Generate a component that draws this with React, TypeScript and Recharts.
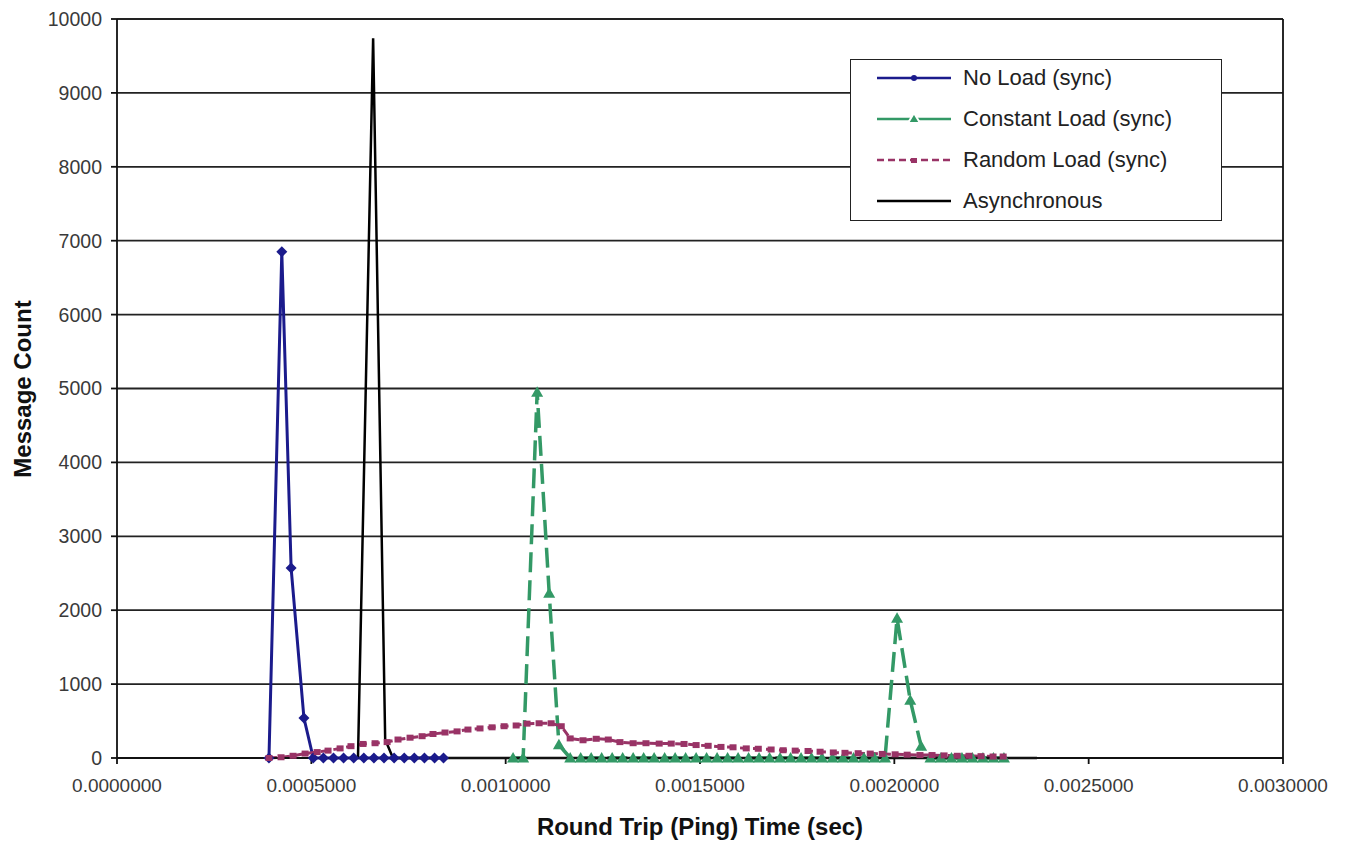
import React from 'react'
import {
  LineChart,
  Line,
  XAxis,
  YAxis,
  CartesianGrid,
  Legend,
  ReferenceLine,
} from 'recharts'

// tick values
const xTicks = [0, 0.0005, 0.001, 0.0015, 0.002, 0.0025, 0.003]
const yTicks = [0, 1000, 2000, 3000, 4000, 5000, 6000, 7000, 8000, 9000, 10000]

// No Load (sync)
const noLoadX = [
  0.000391, 0.000424, 0.000448, 0.000481, 0.000505, 0.000531, 0.000557, 0.000583,
  0.000609, 0.000635, 0.000661, 0.000687, 0.000713, 0.000739, 0.000765, 0.000791,
  0.000817, 0.00084,
]
const noLoadY = [0, 6850, 2570, 540, 0, 0, 0, 0, 0, 0, 0, 0, 0, 0, 0, 0, 0, 0]

// Constant Load (sync)
const constX = [
  0.001019, 0.001045, 0.001081, 0.001112, 0.001137,
  0.001166, 0.001193, 0.00122, 0.001247, 0.001274, 0.001301, 0.001328, 0.001355,
  0.001382, 0.001409, 0.001436, 0.001463, 0.00149, 0.001517, 0.001544, 0.001571,
  0.001598, 0.001625, 0.001652, 0.001679, 0.001706, 0.001733, 0.00176, 0.001787,
  0.001814, 0.001841, 0.001868, 0.001895, 0.001922, 0.001949, 0.001976,
  0.002007, 0.002041, 0.002069,
  0.002093, 0.00212, 0.002147, 0.002174, 0.002201, 0.002228, 0.002255, 0.002282,
]
const constY = [
  0, 0, 4950, 2230, 180,
  0, 0, 0, 0, 0, 0, 0, 0, 0, 0, 0, 0, 0, 0, 0, 0, 0, 0, 0, 0, 0, 0, 0, 0, 0, 0, 0, 0, 0, 0, 0,
  1890, 780, 160,
  0, 0, 0, 0, 0, 0, 0, 0,
]

// Random Load (sync)
const randomX = [
  0.000391, 0.000422, 0.000453, 0.000484, 0.000515, 0.000543, 0.000574, 0.000602,
  0.000633, 0.000664, 0.000695, 0.000723, 0.000754, 0.000785, 0.000813, 0.000844,
  0.000875, 0.000903, 0.000934, 0.000965, 0.000996, 0.001027, 0.001055, 0.001086,
  0.001117, 0.001143, 0.001166, 0.001199, 0.001233, 0.001264, 0.001294, 0.001328,
  0.001361, 0.001395, 0.001426, 0.001459, 0.00149, 0.001521, 0.001554, 0.001585,
  0.001619, 0.00165, 0.001683, 0.001714, 0.001745, 0.001778, 0.001809, 0.001843,
  0.001873, 0.001907, 0.001938, 0.001969, 0.002002, 0.002033, 0.002066, 0.002097,
  0.002128, 0.002162, 0.002192, 0.002223, 0.002254, 0.00228,
]
const randomY = [
  0, 10, 30, 60, 80, 100, 130, 160,
  190, 200, 215, 250, 275, 295, 325, 345,
  360, 385, 400, 415, 430, 440, 465, 470,
  470, 430, 265, 240, 260, 250, 215, 200,
  200, 195, 195, 190, 175, 165, 150, 145,
  130, 125, 115, 105, 100, 95, 85, 75,
  70, 65, 60, 55, 50, 45, 40, 40,
  35, 30, 30, 25, 20, 20,
]

// Asynchronous
const asyncX = [0.00062, 0.000659, 0.00069, 0.00071, 0.0009, 0.0012, 0.0015, 0.0018, 0.0021, 0.002367]
const asyncY = [0, 9740, 250, 0, 0, 0, 0, 0, 0, 0]

const toPoints = (xs: number[], ys: number[]) => xs.map((x, i) => ({ x, y: ys[i] }))

const noLoad = toPoints(noLoadX, noLoadY)
const constLoad = toPoints(constX, constY)
const randomLoad = toPoints(randomX, randomY)
const asyncData = toPoints(asyncX, asyncY)

const BLUE = '#1b1b8c'
const GREEN = '#339966'
const PINK = '#993366'
const BLACK = '#000000'
const FONT = '"Liberation Sans", Arial, sans-serif'

const Diamond = (props: any) => {
  const { cx, cy, index } = props
  if (cx == null || cy == null) return <g key={index} />
  const s = 5.5
  return (
    <polygon
      key={index}
      points={`${cx},${cy - s} ${cx + s},${cy} ${cx},${cy + s} ${cx - s},${cy}`}
      fill={BLUE}
    />
  )
}

const Triangle = (props: any) => {
  const { cx, cy, index } = props
  if (cx == null || cy == null) return <g key={index} />
  return (
    <polygon
      key={index}
      points={`${cx},${cy - 6} ${cx + 6},${cy + 4.5} ${cx - 6},${cy + 4.5}`}
      fill={GREEN}
    />
  )
}

const SmallSquare = (props: any) => {
  const { cx, cy, index } = props
  if (cx == null || cy == null) return <g key={index} />
  return <rect key={index} x={cx - 3.5} y={cy - 3} width={7} height={6} fill={PINK} />
}

const legendItems = [
  { name: 'No Load (sync)', color: BLUE, dash: undefined, marker: 'dot' },
  { name: 'Constant Load (sync)', color: GREEN, dash: undefined, marker: 'triangle' },
  { name: 'Random Load (sync)', color: PINK, dash: '7 4', marker: 'square' },
  { name: 'Asynchronous', color: BLACK, dash: undefined, marker: 'none' },
]

const renderLegend = () => (
  <div
    style={{
      position: 'relative',
      width: 372,
      height: 162,
      boxSizing: 'border-box',
      border: '1.5px solid #222',
      background: '#fff',
      fontFamily: FONT,
    }}
  >
    {legendItems.map((item, i) => (
      <div
        key={item.name}
        style={{ position: 'absolute', left: 0, top: 18 + 41 * i - 20, height: 40, width: '100%' }}
      >
        <svg width={80} height={40} style={{ position: 'absolute', left: 24, top: 0 }}>
          <line
            x1={2}
            y1={20}
            x2={76}
            y2={20}
            stroke={item.color}
            strokeWidth={2.5}
            strokeDasharray={item.dash}
          />
          {item.marker === 'dot' && <circle cx={39} cy={20} r={3} fill={item.color} />}
          {item.marker === 'triangle' && (
            <polygon points="39,14 45,24 33,24" fill={item.color} stroke="#fff" strokeWidth={2} />
          )}
          {item.marker === 'square' && <rect x={36} y={18} width={6} height={5} fill={item.color} />}
        </svg>
        <span
          style={{
            position: 'absolute',
            left: 112,
            top: 0,
            lineHeight: '40px',
            fontSize: 22,
            color: '#222',
            whiteSpace: 'nowrap',
          }}
        >
          {item.name}
        </span>
      </div>
    ))}
  </div>
)

const App = () => {
  return (
    <div style={{ position: 'absolute', left: 0, top: 0, background: '#fff' }}>
      <LineChart
        width={1349}
        height={841}
        margin={{ top: 19, right: 66, left: 57, bottom: 43 }}
      >
        <CartesianGrid horizontal vertical={false} stroke="#222" strokeWidth={1.8} />
        <XAxis
          dataKey="x"
          type="number"
          domain={[0, 0.003]}
          ticks={xTicks}
          tickFormatter={(v: number) => v.toFixed(7)}
          height={40}
          tickSize={6}
          tickMargin={15}
          stroke="#111"
          strokeWidth={1.8}
          tick={{ fill: '#3a3a3a', fontSize: 19, fontFamily: FONT }}
          interval={0}
          allowDataOverflow
          label={{
            content: () => (
              <text
                x={700}
                y={826}
                textAnchor="middle"
                dominantBaseline="central"
                fontFamily={FONT}
                fontWeight="bold"
                fontSize={24}
                fill="#111"
              >
                Round Trip (Ping) Time (sec)
              </text>
            ),
          }}
        />
        <YAxis
          type="number"
          domain={[0, 10000]}
          ticks={yTicks}
          width={60}
          tickSize={6}
          tickMargin={9}
          stroke="#111"
          strokeWidth={1.8}
          tick={{ fill: '#3a3a3a', fontSize: 19.5, fontFamily: FONT }}
          interval={0}
          label={{
            content: () => (
              <text
                x={22}
                y={389}
                transform="rotate(-90 22 389)"
                textAnchor="middle"
                dominantBaseline="central"
                fontFamily={FONT}
                fontWeight="bold"
                fontSize={24}
                fill="#111"
              >
                Message Count
              </text>
            ),
          }}
        />
        <ReferenceLine x={0.003} stroke="#111" strokeWidth={1.8} />
        <Legend
          layout="vertical"
          align="center"
          verticalAlign="middle"
          content={renderLegend}
          wrapperStyle={{ left: 850, top: 59, width: 372, height: 162 }}
        />
        <Line
          data={noLoad}
          dataKey="y"
          name="No Load (sync)"
          type="linear"
          stroke={BLUE}
          strokeWidth={3}
          dot={Diamond}
          activeDot={false}
          isAnimationActive={false}
        />
        <Line
          data={constLoad}
          dataKey="y"
          name="Constant Load (sync)"
          type="linear"
          stroke={GREEN}
          strokeWidth={3.5}
          strokeDasharray="20 8"
          dot={Triangle}
          activeDot={false}
          isAnimationActive={false}
        />
        <Line
          data={randomLoad}
          dataKey="y"
          name="Random Load (sync)"
          type="linear"
          stroke={PINK}
          strokeWidth={3}
          strokeDasharray="8 5"
          dot={SmallSquare}
          activeDot={false}
          isAnimationActive={false}
        />
        <Line
          data={asyncData}
          dataKey="y"
          name="Asynchronous"
          type="linear"
          stroke={BLACK}
          strokeWidth={2.5}
          dot={false}
          activeDot={false}
          isAnimationActive={false}
        />
      </LineChart>
    </div>
  )
}

export default App
